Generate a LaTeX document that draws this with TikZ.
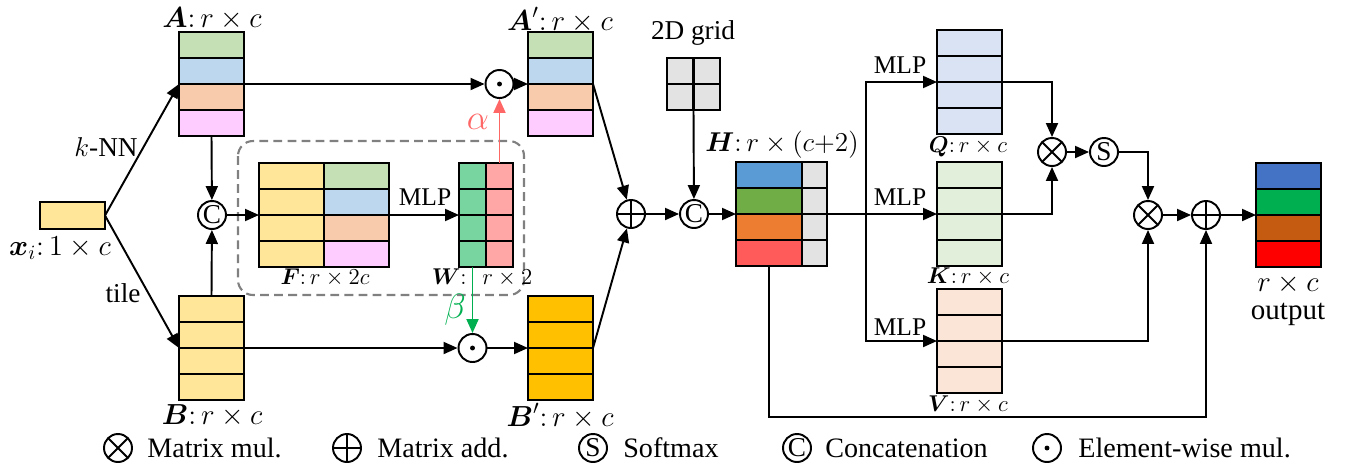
\documentclass[tikz,border=0pt]{standalone}
\usepackage{fix-cm}
\usepackage{amsmath,amssymb}
\usepackage{fontspec}
\setmainfont{Liberation Serif}
\usetikzlibrary{arrows.meta,calc,fit}
\definecolor{cyel}{HTML}{FFE699}
\definecolor{cgr}{HTML}{C5E0B4}
\definecolor{cbl}{HTML}{BDD7EE}
\definecolor{cor}{HTML}{F8CBAD}
\definecolor{cpk}{HTML}{FFCCFF}
\definecolor{cbp}{HTML}{FFC000}
\definecolor{cwg}{HTML}{78D5A0}
\definecolor{cwp}{HTML}{FFA6A6}
\definecolor{cgry}{HTML}{E3E3E3}
\definecolor{chb}{HTML}{5B9BD5}
\definecolor{chg}{HTML}{70AD47}
\definecolor{cho}{HTML}{ED7D31}
\definecolor{chr}{HTML}{FF5B5B}
\definecolor{cq}{HTML}{DAE3F3}
\definecolor{ck}{HTML}{E2EFDA}
\definecolor{cv}{HTML}{FBE5D6}
\definecolor{cob}{HTML}{4472C4}
\definecolor{cog}{HTML}{00B050}
\definecolor{coo}{HTML}{C55A11}
\definecolor{cor2}{HTML}{FF0000}
\definecolor{calpha}{HTML}{FF6666}
\definecolor{cbeta}{HTML}{00B050}
\begin{document}
\begin{tikzpicture}[
      x=0.2mm,y=-0.2mm,
      >={Triangle[length=2.8mm,width=2.4mm]},
      every node/.style={font=\fontsize{15.5}{18}\selectfont},
      big/.style={font=\fontsize{16.5}{19}\selectfont,inner sep=1pt},
      sml/.style={font=\fontsize{13}{15}\selectfont},
      mlp/.style={font=\fontsize{14.5}{17}\selectfont},
      grk/.style={font=\fontsize{20}{22}\selectfont},
      lgd/.style={font=\fontsize{16}{19}\selectfont,anchor=west,inner sep=0pt},
      blk/.style={inner sep=0pt,outer sep=0pt},
      cell/.style={draw=black,line width=1.4pt},
      arr/.style={draw=black,line width=1.1pt,->},
      op/.style={draw=black,line width=1.1pt,circle,fill=white,minimum size=5.6mm,inner sep=0pt},
      opl/.style={op,path picture={\draw[black,line width=1.1pt] (path picture bounding box.north) -- (path picture bounding box.south)
        (path picture bounding box.west) -- (path picture bounding box.east);}},
      otim/.style={op,path picture={\draw[black,line width=1.1pt] (path picture bounding box.north west) -- (path picture bounding box.south east)
        (path picture bounding box.north east) -- (path picture bounding box.south west);}},
      odt/.style={op,path picture={\fill[black] (path picture bounding box.center) circle (1.4pt);}},
      grp/.style={draw=black!50,line width=1.2pt,dash pattern=on 5pt off 3pt,rounded corners=3mm}
    ]
    \useasboundingbox (0,0) rectangle (1347,469);
    % dashed group round F and W
    \draw[grp] (238,141) rectangle (524,295);
    % input point
    \draw[cell,fill=cyel] (40,202) rectangle (105,229);
    \node[blk,fit={(40,202) (105,229)}] (xi) {};
    % neighbours A and tiled B
    \foreach \c [count=\i from 0] in {cgr,cbl,cor,cpk}
      \draw[cell,fill=\c] (179,{32+26*\i}) rectangle ++(65,26);
    \node[blk,fit={(179,32) (244,136)}] (A) {};
    \foreach \i in {0,...,3}
      \draw[cell,fill=cyel] (179,{296+26*\i}) rectangle ++(65,26);
    \node[blk,fit={(179,296) (244,400)}] (B) {};
    % concatenated F and weights W
    \foreach \c [count=\i from 0] in {cgr,cbl,cor,cpk} {
      \draw[cell,fill=cyel] (259,{163+26*\i}) rectangle ++(65,26);
      \draw[cell,fill=\c] (324,{163+26*\i}) rectangle ++(65,26);
    }
    \node[blk,fit={(259,163) (389,267)}] (F) {};
    \foreach \i in {0,...,3} {
      \draw[cell,fill=cwg] (459,{163+26*\i}) rectangle ++(27,26);
      \draw[cell,fill=cwp] (486,{163+26*\i}) rectangle ++(27,26);
    }
    \node[blk,fit={(459,163) (513,267)}] (W) {};
    % weighted A' and B'
    \foreach \c [count=\i from 0] in {cgr,cbl,cor,cpk}
      \draw[cell,fill=\c] (528,{32+26*\i}) rectangle ++(65,26);
    \node[blk,fit={(528,32) (593,136)}] (Ap) {};
    \foreach \i in {0,...,3}
      \draw[cell,fill=cbp] (528,{296+26*\i}) rectangle ++(65,26);
    \node[blk,fit={(528,296) (593,400)}] (Bp) {};
    % 2D grid
    \foreach \i in {0,1}
      \foreach \j in {0,1}
        \draw[cell,fill=cgry] ({667+26.5*\i},{58+26*\j}) rectangle ++(26.5,26);
    \node[blk,fit={(667,58) (720,110)}] (grid) {};
    % H
    \foreach \c [count=\i from 0] in {chb,chg,cho,chr} {
      \draw[cell,fill=\c] (736,{162+26*\i}) rectangle ++(66,26);
      \draw[cell,fill=cgry] (802,{162+26*\i}) rectangle ++(25,26);
    }
    \node[blk,fit={(736,162) (827,266)}] (H) {};
    % Q, K, V
    \foreach \i in {0,...,3} {
      \draw[cell,fill=cq] (937,{30+26*\i}) rectangle ++(65,26);
      \draw[cell,fill=ck] (937,{162+26*\i}) rectangle ++(65,26);
      \draw[cell,fill=cv] (937,{289+26*\i}) rectangle ++(65,26);
    }
    \node[blk,fit={(937,30) (1002,134)}] (Q) {};
    \node[blk,fit={(937,162) (1002,266)}] (K) {};
    \node[blk,fit={(937,289) (1002,393)}] (V) {};
    % output
    \foreach \c [count=\i from 0] in {cob,cog,coo,cor2}
      \draw[cell,fill=\c] (1256,{163+26*\i}) rectangle ++(65,26);
    \node[blk,fit={(1256,163) (1321,267)}] (out) {};
    % operators
    \node[op] (cat1) at (212,215) {C};
    \node[odt] (dotA) at (499.5,84) {};
    \node[odt] (dotB) at (472.5,348) {};
    \node[opl] (add1) at (631,214) {};
    \node[op] (cat2) at (694,214) {C};
    \node[otim] (mul1) at (1052,152) {};
    \node[op] (sm) at (1104,152) {S};
    \node[otim] (mul2) at (1148,215) {};
    \node[opl] (add2) at (1206,215) {};
    \coordinate (sp) at (866,214);
    \coordinate (hr) at (769,266);
    \coordinate (hb) at (769,417);
    % labels
    \node[big] (lxi) at (60,248) {$\boldsymbol{x}_i{:}\,1\times c$};
    \node[big] (lA) at (212,19) {$\boldsymbol{A}{:}\,r\times c$};
    \node[big] (lB) at (212,416) {$\boldsymbol{B}{:}\,r\times c$};
    \node[big] (lAp) at (560,20) {$\boldsymbol{A}'{:}\,r\times c$};
    \node[big] (lBp) at (560,416) {$\boldsymbol{B}'{:}\,r\times c$};
    \node (lknn) at (106,147) {$k$-NN};
    \node (ltile) at (123,293) {tile};
    \node[sml] (lF) at (325,278) {$\boldsymbol{F}{:}\,r\times 2c$};
    \node[sml] (lW) at (482,278) {$\boldsymbol{W}{:}\hspace{9pt}r\times 2$};
    \node[mlp] (lmlp) at (425,197) {MLP};
    \node[grk,text=calpha] (lalpha) at (478,122) {$\alpha$};
    \node[grk,text=cbeta] (lbeta) at (455,310) {$\beta$};
    \node (lgrid) at (693,33) {2D grid};
    \node (lH) at (782,145) {$\boldsymbol{H}{:}\,r\times(c{+}2)$};
    \node[mlp] (lmlpq) at (900,65) {MLP};
    \node[mlp] (lmlpk) at (900,197) {MLP};
    \node[mlp] (lmlpv) at (900,327) {MLP};
    \node[sml] (lQ) at (968,147) {$\boldsymbol{Q}{:}\,r\times c$};
    \node[sml] (lK) at (968,277) {$\boldsymbol{K}{:}\,r\times c$};
    \node[sml] (lV) at (968,405) {$\boldsymbol{V}{:}\,r\times c$};
    \node[big] (lout1) at (1288,284) {$r\times c$};
    \node[big] (lout2) at (1288,314) {output};
    % left part: kNN, tile, concat, MLP
    \draw[arr] (xi.east) -- (A.west);
    \draw[arr] (xi.east) -- (B.west);
    \draw[arr] (A.south) -- (cat1);
    \draw[arr] (B.north) -- (cat1);
    \draw[arr] (cat1) -- (F.west);
    \draw[arr] (F.east) -- (W.west);
    % weighting
    \draw[arr] (A.east) -- (dotA);
    \draw[arr] (dotA) -- (Ap.west);
    \draw[arr] (B.east) -- (dotB);
    \draw[arr] (dotB) -- (Bp.west);
    \draw[arr,draw=calpha] (W.north -| dotA) -- (dotA);
    \draw[arr,draw=cbeta] (W.south -| dotB) -- (dotB);
    % sum and grid
    \draw[arr] (Ap.east) -- (add1);
    \draw[arr] (Bp.east) -- (add1);
    \draw[arr] (add1) -- (cat2);
    \draw[arr] (grid.south) -- (cat2);
    \draw[arr] (cat2) -- (H.west);
    % attention
    \draw[arr] (H.east) -- (K.west);
    \draw[arr] (sp) |- (Q.west);
    \draw[arr] (sp) |- (V.west);
    \draw[arr] (Q.east) -| (mul1);
    \draw[arr] (K.east) -| (mul1);
    \draw[arr] (mul1) -- (sm);
    \draw[arr] (sm) -| (mul2);
    \draw[arr] (V.east) -| (mul2);
    \draw[arr] (mul2) -- (add2);
    \draw[arr] (add2) -- (out.west);
    \draw[arr] (hr) -- (hb) -| (add2);
    % legend
    \node[otim] (gmul) at (118,448) {};
    \node[lgd] (tmul) at (147,448) {Matrix mul.};
    \node[opl] (gadd) at (347,448) {};
    \node[lgd] (tadd) at (377,448) {Matrix add.};
    \node[op] (gsm) at (593,448) {S};
    \node[lgd] (tsm) at (623,448) {Softmax};
    \node[op] (gcat) at (797,448) {C};
    \node[lgd] (tcat) at (825,448) {Concatenation};
    \node[odt] (gdot) at (1047,448) {};
    \node[lgd] (tdot) at (1078,448) {Element-wise mul.};
  \end{tikzpicture}
\end{document}
